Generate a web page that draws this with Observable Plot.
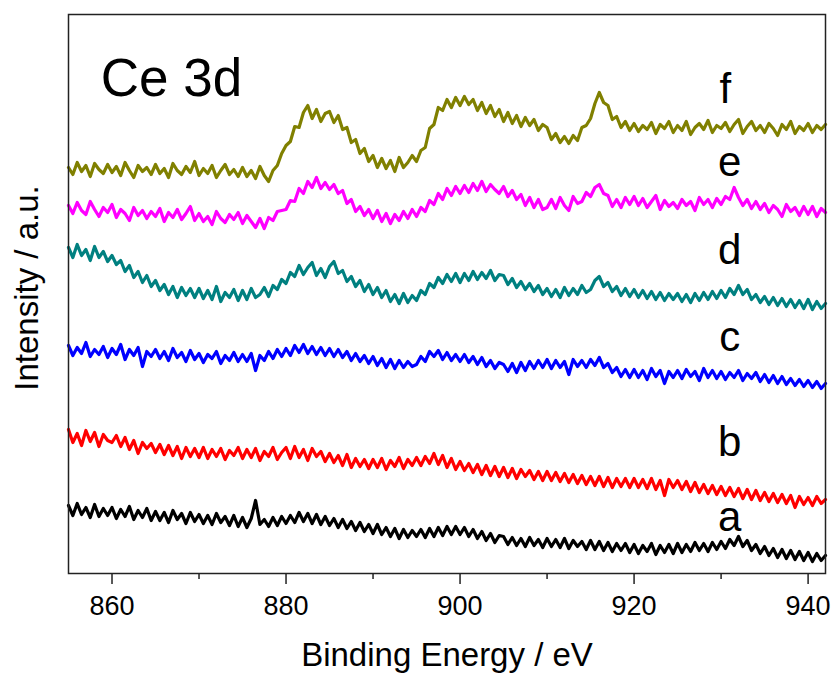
<!DOCTYPE html>
<html>
<head>
<meta charset="utf-8">
<script src="https://cdn.jsdelivr.net/npm/d3@7"></script>
<script src="https://cdn.jsdelivr.net/npm/@observablehq/plot@0.6"></script>
<style>
  html, body { margin: 0; padding: 0; background: #fff; }
  #chart svg { display: block; }
</style>
</head>
<body>
<div id="chart"></div>
<script>
// Binding energy grid (eV)
const energy = [
  855,855.5,856,856.5,857,857.5,858,858.5,859,859.5,
  860,860.5,861,861.5,862,862.5,863,863.5,864,864.5,
  865,865.5,866,866.5,867,867.5,868,868.5,869,869.5,
  870,870.5,871,871.5,872,872.5,873,873.5,874,874.5,
  875,875.5,876,876.5,877,877.5,878,878.5,879,879.5,
  880,880.5,881,881.5,882,882.5,883,883.5,884,884.5,
  885,885.5,886,886.5,887,887.5,888,888.5,889,889.5,
  890,890.5,891,891.5,892,892.5,893,893.5,894,894.5,
  895,895.5,896,896.5,897,897.5,898,898.5,899,899.5,
  900,900.5,901,901.5,902,902.5,903,903.5,904,904.5,
  905,905.5,906,906.5,907,907.5,908,908.5,909,909.5,
  910,910.5,911,911.5,912,912.5,913,913.5,914,914.5,
  915,915.5,916,916.5,917,917.5,918,918.5,919,919.5,
  920,920.5,921,921.5,922,922.5,923,923.5,924,924.5,
  925,925.5,926,926.5,927,927.5,928,928.5,929,929.5,
  930,930.5,931,931.5,932,932.5,933,933.5,934,934.5,
  935,935.5,936,936.5,937,937.5,938,938.5,939,939.5,
  940,940.5,941,941.5,942
];

// Intensities (a.u., offset stacked)
const seriesA = [
  68,58,70,59,66,56,69,57,65,58,
  66,55,64,57,67,54,63,56,65,53,
  62,53,61,51,63,54,60,50,61,52,
  59,50,58,49,60,51,57,48,58,47,
  56,46,55,73,49,54,47,56,48,57,
  50,58,51,61,52,60,50,59,49,57,
  48,55,46,54,45,52,43,51,42,49,
  40,49,39,46,37,45,35,44,36,43,
  37,44,36,45,37,46,38,47,39,47,
  39,46,37,44,35,42,33,40,31,38,
  37,29,36,28,35,27,36,28,34,26,
  35,27,34,26,35,25,33,27,32,24,
  33,24,32,23,31,22,30,23,30,21,
  29,20,28,22,30,19,28,21,29,20,
  30,21,29,22,31,23,30,22,31,24,
  32,25,34,28,37,27,33,23,29,20,
  27,18,25,16,24,15,23,14,22,13,
  21,12,20,13,18
];
const seriesB = [
  144,131,140,128,143,132,141,127,139,133,
  131,138,127,136,124,133,120,131,125,130,
  121,129,119,128,118,127,115,126,117,125,
  116,126,115,124,117,125,114,123,118,126,
  115,124,116,125,113,122,117,126,114,121,
  126,115,127,116,124,113,125,117,122,112,
  120,111,118,108,119,106,115,107,114,105,
  114,106,115,104,113,107,116,105,114,108,
  116,108,117,110,120,109,118,106,115,104,
  112,103,110,101,109,99,108,98,107,97,
  106,96,105,95,104,97,103,94,102,93,
  102,93,101,92,100,91,99,90,98,89,
  97,88,97,87,96,86,95,87,95,86,
  95,86,94,85,95,84,93,78,94,86,
  93,84,92,82,91,81,89,80,88,79,
  87,78,86,77,85,75,84,74,83,73,
  81,72,80,71,79,70,78,66,77,69,
  76,68,77,70,74
];
const seriesC = [
  228,218,226,220,231,217,224,219,227,216,
  225,219,229,214,224,218,226,207,222,217,
  224,215,222,213,225,216,221,212,223,214,
  220,211,219,215,222,210,218,213,221,212,
  219,212,220,203,218,213,222,215,224,217,
  225,218,228,221,229,220,227,219,226,218,
  225,217,224,216,222,213,220,212,218,210,
  217,208,215,206,214,205,213,206,212,207,
  209,217,212,222,217,223,214,221,213,219,
  212,219,211,217,209,216,207,213,205,211,
  209,202,210,201,211,203,212,205,213,206,
  214,205,213,206,212,199,214,207,213,206,
  214,208,216,206,210,201,206,197,204,196,
  204,196,203,194,205,197,203,190,202,196,
  203,195,204,197,202,193,205,196,203,195,
  202,194,201,196,203,193,200,195,201,192,
  199,191,198,190,197,189,195,188,194,187,
  193,186,192,185,190
];
const seriesD = [
  326,316,329,318,324,313,327,316,322,312,
  318,309,313,302,308,296,302,291,298,287,
  293,283,289,279,287,276,286,278,285,276,
  285,275,283,274,287,272,281,276,284,273,
  283,274,285,276,279,286,277,288,284,294,
  290,301,297,308,299,306,311,298,305,296,
  307,312,300,303,292,297,287,293,282,289,
  279,286,276,283,272,279,270,280,271,278,
  273,283,279,290,286,296,290,299,292,300,
  291,300,293,302,294,301,295,303,293,299,
  298,289,295,286,292,284,290,282,288,279,
  285,277,284,276,286,278,285,279,288,281,
  284,293,297,287,291,282,287,278,285,277,
  284,276,283,275,282,274,281,273,280,274,
  280,272,279,271,280,273,281,274,282,275,
  283,276,285,279,288,279,284,274,279,271,
  277,269,276,268,275,267,274,266,273,265,
  274,264,272,265,270
];
const seriesE = [
  368,360,371,363,359,372,364,357,366,361,
  369,356,364,360,353,366,358,363,355,362,
  357,365,352,361,356,364,354,360,367,353,
  360,352,357,349,362,355,351,359,354,361,
  350,358,352,346,355,345,356,353,362,363,
  364,373,372,385,380,392,386,396,385,391,
  384,389,380,383,370,374,362,367,358,364,
  355,363,352,360,350,359,353,362,355,364,
  357,366,362,373,369,380,374,385,378,387,
  380,388,381,390,383,392,382,389,384,380,
  387,377,383,374,379,368,376,366,374,364,
  366,374,365,376,368,363,377,370,372,381,
  377,386,389,380,378,367,374,366,376,369,
  377,368,375,366,372,378,364,373,367,371,
  365,374,368,372,363,376,369,374,366,375,
  369,377,374,386,376,368,374,365,372,364,
  370,361,368,364,357,369,362,366,358,367,
  359,367,357,365,361
];
const seriesF = [
  406,399,411,402,408,397,410,404,400,409,
  401,407,398,411,403,396,408,402,406,399,
  409,400,405,396,410,403,399,407,401,412,
  398,405,400,408,396,403,409,399,404,397,
  406,397,403,395,407,398,392,403,408,420,
  428,432,447,446,461,468,455,464,452,460,
  462,451,458,444,446,431,434,420,425,412,
  418,406,415,405,413,402,416,406,411,418,
  412,423,426,445,449,466,463,474,466,476,
  468,477,469,474,463,471,460,468,457,464,
  452,461,450,458,447,456,448,454,443,449,
  446,434,440,431,437,430,438,433,446,448,
  455,470,481,471,468,454,457,446,452,443,
  450,442,448,444,451,440,449,445,452,441,
  448,443,452,439,446,450,444,453,441,448,
  445,451,442,449,454,440,447,452,443,448,
  441,450,445,438,449,444,452,440,447,443,
  450,441,448,444,449
];

const sampleNames = ["a", "b", "c", "d", "e", "f"];
const sampleColors = ["#000000", "#ff0000", "#0000ff", "#008080", "#ff00ff", "#808000"];
const sampleSeries = [seriesA, seriesB, seriesC, seriesD, seriesE, seriesF];
// label anchors (eV, intensity)
const labelEnergy = [931, 931, 931, 931, 931, 930.5];
const labelIntensity = [43, 118, 223, 310, 398, 471];

const xTicksMajor = [860, 880, 900, 920, 940];
const xTicksMinor = [870, 890, 910, 930];

const rows = sampleSeries.flatMap((s, k) =>
  s.map((v, i) => ({ energy: energy[i], intensity: v, sample: sampleNames[k] }))
);
const labels = sampleNames.map((n, k) => ({ name: n, energy: labelEnergy[k], intensity: labelIntensity[k] }));

const FONT = "'Liberation Sans', Arial, Helvetica, sans-serif";

const chart = Plot.plot({
  width: 833,
  height: 673,
  marginTop: 14,
  marginBottom: 100,
  marginLeft: 68,
  marginRight: 8,
  style: { fontFamily: FONT, background: "#fff", color: "#000" },
  x: { domain: [855, 942] },
  y: { domain: [0, 559], axis: null },
  color: { domain: sampleNames, range: sampleColors },
  marks: [
    Plot.line(rows, {
      x: "energy", y: "intensity", z: "sample", stroke: "sample",
      strokeWidth: 3.2, strokeLinejoin: "round"
    }),
    Plot.axisX({ ticks: xTicksMajor, tickSize: 11, tickPadding: 11, fontSize: 27, label: null, stroke: "#222", strokeWidth: 1.5, tickFormat: d => String(d) }),
    Plot.axisX({ ticks: xTicksMinor, tickSize: 6, text: null, label: null, stroke: "#222", strokeWidth: 1.5 }),
    Plot.frame({ stroke: "#222", strokeWidth: 1.5 }),
    Plot.text(labels, {
      x: "energy", y: "intensity", text: "name",
      fontSize: 42, textAnchor: "middle", lineAnchor: "bottom", fill: "#000"
    }),
    Plot.text(["Ce 3d"], {
      x: () => 858.7, y: () => 478, text: d => d,
      fontSize: 53, textAnchor: "start", lineAnchor: "bottom", fill: "#000"
    }),
    Plot.text(["Binding Energy / eV"], {
      frameAnchor: "bottom", text: d => d, dy: 92,
      fontSize: 33, textAnchor: "middle", lineAnchor: "bottom", fill: "#000"
    }),
    Plot.text(["Intensity / a.u."], {
      frameAnchor: "left", text: d => d, dx: -31, dy: -6, rotate: -90,
      fontSize: 33, textAnchor: "middle", lineAnchor: "bottom", fill: "#000"
    })
  ]
});

document.getElementById("chart").appendChild(chart);
</script>
</body>
</html>
